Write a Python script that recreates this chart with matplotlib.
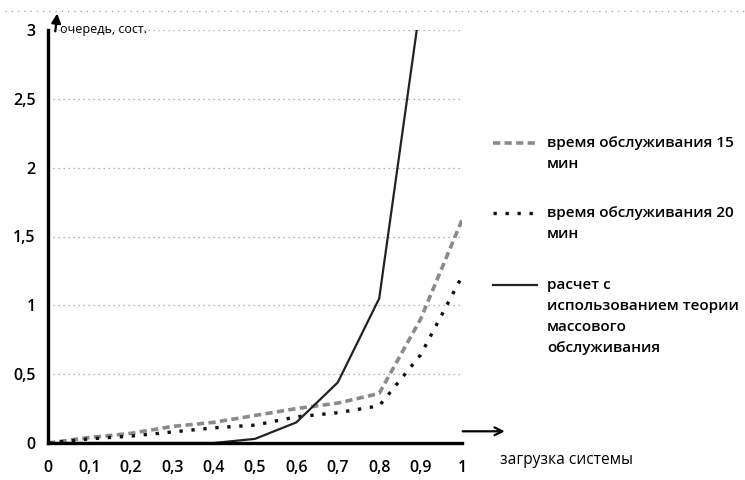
import matplotlib
matplotlib.use('Agg')
import matplotlib.pyplot as plt
from matplotlib.lines import Line2D

plt.rcParams['font.family'] = ['Open Sans', 'DejaVu Sans']

# загрузка системы
load = [0, 0.1, 0.2, 0.3, 0.4, 0.5, 0.6, 0.7, 0.8, 0.9, 1.0]
# очередь, время обслуживания 15 мин
queue_15 = [0, 0.04, 0.07, 0.12, 0.15, 0.20, 0.25, 0.29, 0.36, 0.90, 1.62]
# очередь, время обслуживания 20 мин
queue_20 = [0, 0.03, 0.05, 0.08, 0.11, 0.13, 0.19, 0.22, 0.27, 0.64, 1.21]
# расчет по теории массового обслуживания (до 0,9)
load_theory = load[:10]
queue_theory = [0, 0, 0, 0, 0, 0.03, 0.15, 0.44, 1.05, 3.2]

x_ticks = [0, 0.1, 0.2, 0.3, 0.4, 0.5, 0.6, 0.7, 0.8, 0.9, 1.0]
x_labels = ['0', '0,1', '0,2', '0,3', '0,4', '0,5', '0,6', '0,7', '0,8', '0,9', '1']
y_ticks = [0, 0.5, 1, 1.5, 2, 2.5, 3]
y_labels = ['0', '0,5', '1', '1,5', '2', '2,5', '3']

labels = ['время обслуживания 15\nмин',
          'время обслуживания 20\nмин',
          'расчет с\nиспользованием теории\nмассового\nобслуживания']

fig = plt.figure(figsize=(7.45, 4.8), dpi=100)
ax = fig.add_axes([48 / 745, 37 / 480, 414 / 745, 413 / 480])

st15 = dict(color='#8a8a8a', lw=2.6, linestyle=(0, (2.0, 1.2)))
st20 = dict(color='#111111', lw=2.4, linestyle=(0, (1.0, 2.6)))
stth = dict(color='#222222', lw=1.6, linestyle='-')

ax.plot(load, queue_15, **st15)
ax.plot(load, queue_20, **st20)
ax.plot(load_theory, queue_theory, **stth)

ax.set_xlim(0, 1)
ax.set_ylim(0, 3)
ax.set_xticks(x_ticks)
ax.set_xticklabels(x_labels)
ax.set_yticks(y_ticks)
ax.set_yticklabels(y_labels)
ax.tick_params(length=0, labelsize=11.5)
ax.tick_params(axis='x', pad=12)
ax.tick_params(axis='y', pad=9)
for t in ax.get_xticklabels() + ax.get_yticklabels():
    t.set_fontweight('semibold')

ax.grid(axis='y', color='#9a9a9a', lw=0.9, linestyle=(0, (1, 3)))
ax.set_axisbelow(True)
for s in ['top', 'right']:
    ax.spines[s].set_visible(False)
for s in ['left', 'bottom']:
    ax.spines[s].set_linewidth(2.4)
    ax.spines[s].set_color('black')

# стрелки осей
ax.annotate('', xy=(0.023, 3.14), xytext=(0.017, 2.97), annotation_clip=False,
            arrowprops=dict(arrowstyle='-|>', color='black', lw=1.6, mutation_scale=14))
ax.annotate('', xy=(1.11, 0.085), xytext=(0.995, 0.085), annotation_clip=False,
            arrowprops=dict(arrowstyle='->', color='black', lw=1.6, mutation_scale=14))

fig.text(60 / 745, 1 - 30 / 480, 'очередь, сост.', fontsize=9, va='center', ha='left')
fig.text(500 / 745, 1 - 460 / 480, 'загрузка системы', fontsize=11.2, va='center', ha='left')

# верхняя граница области диаграммы
fig.add_artist(Line2D([5 / 745, 1], [1 - 11 / 480, 1 - 11 / 480], transform=fig.transFigure,
                      color='#9a9a9a', lw=0.9, linestyle=(0, (1, 4))))

# легенда
legend_y = [143, 213, 285]
for y, lab, st in zip(legend_y, labels, [st15, st20, stth]):
    fy = 1 - y / 480
    fig.add_artist(Line2D([493 / 745, 537 / 745], [fy, fy], transform=fig.transFigure, **st))
    fig.text(547 / 745, fy + 7 / 480, lab, fontsize=11, fontweight='semibold', va='top',
             ha='left', linespacing=1.65)

fig.savefig('out.png', dpi=100)
